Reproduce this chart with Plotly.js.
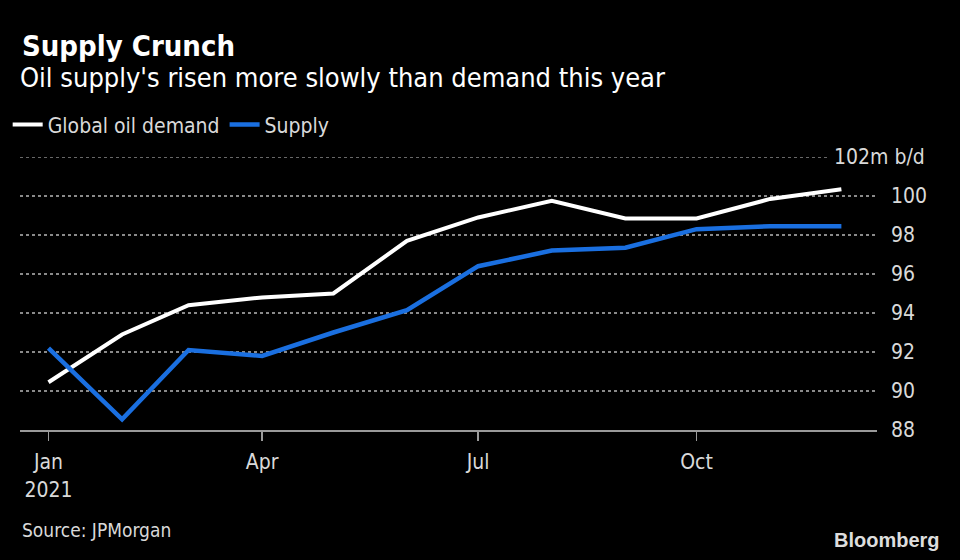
<!DOCTYPE html>
<html>
<head>
<meta charset="utf-8">
<script src="https://cdn.plot.ly/plotly-3.0.1.min.js"></script>
<style>
  html, body { margin: 0; padding: 0; background: #000; }
  #chart { width: 960px; height: 560px; }
</style>
</head>
<body>
<div id="chart"></div>
<script>
const months = ['2021-01-01','2021-02-01','2021-03-01','2021-04-01','2021-05-01','2021-06-01',
                '2021-07-01','2021-08-01','2021-09-01','2021-10-01','2021-11-01','2021-12-01'];
const demand = [90.45, 92.9, 94.4, 94.8, 95.0, 97.7, 98.9, 99.75, 98.85, 98.85, 99.85, 100.35];
const supply = [92.2, 88.55, 92.1, 91.8, 93.0, 94.15, 96.4, 97.2, 97.35, 98.3, 98.45, 98.45];
const xTickVals = ['2021-01-01','2021-04-01','2021-07-01','2021-10-01'];
const xTickText = ['Jan<br>2021','Apr','Jul','Oct'];
const yTickVals = [88, 90, 92, 94, 96, 98, 100];
const yTopValue = 102;
const yTopLabel = '102m b/d';

const FONT = '"DejaVu Sans Condensed", "Liberation Sans Narrow", "Roboto Condensed", "DejaVu Sans", sans-serif';
const TXT = '#d9d9d9';

const traces = [
  { x: months, y: demand, name: 'Global oil demand', type: 'scatter', mode: 'lines',
    line: { color: '#ffffff', width: 4 } },
  { x: months, y: supply, name: 'Supply', type: 'scatter', mode: 'lines',
    line: { color: '#1a6fe0', width: 4.5 } }
];

const layout = {
  width: 960, height: 560,
  paper_bgcolor: '#000', plot_bgcolor: '#000',
  margin: { l: 20, r: 83, t: 157, b: 130 },
  font: { family: FONT, color: TXT, size: 21 },
  title: {
    text: '<b>Supply Crunch</b>',
    x: 0, xref: 'container', xanchor: 'left', y: 1, yref: 'container', yanchor: 'top',
    pad: { l: 22, t: 36 },
    font: { family: FONT, size: 29, color: '#ffffff' }
  },
  showlegend: true,
  legend: {
    orientation: 'h', xref: 'container', yref: 'container', x: 0.008, y: 0.777,
    xanchor: 'left', yanchor: 'middle',
    font: { family: FONT, size: 21, color: TXT },
    itemwidth: 30, bgcolor: 'rgba(0,0,0,0)', traceorder: 'normal'
  },
  xaxis: {
    type: 'date',
    range: ['2020-12-20', '2021-12-16'],
    tickvals: xTickVals, ticktext: xTickText,
    showgrid: false, zeroline: false,
    showline: true, linecolor: '#9a9a9a', linewidth: 2,
    ticks: 'outside', ticklen: 9, tickcolor: '#9a9a9a', tickwidth: 1.5,
    ticklabelstandoff: 3,
    tickfont: { family: FONT, size: 21, color: TXT },
    fixedrange: true
  },
  yaxis: {
    range: [88, 102], side: 'right',
    tickvals: yTickVals,
    showgrid: true, gridcolor: '#8a8a8a', griddash: 'dot', gridwidth: 1.5,
    zeroline: false, showline: false, ticks: '',
    ticklabelstandoff: 13,
    tickfont: { family: FONT, size: 21, color: TXT },
    fixedrange: true
  },
  shapes: [
    { type: 'line', xref: 'paper', yref: 'y', x0: 0, x1: 0.944, y0: yTopValue, y1: yTopValue,
      line: { color: '#8a8a8a', width: 1.5, dash: 'dot' }, layer: 'below' }
  ],
  annotations: [
    { text: "Oil supply's risen more slowly than demand this year", xref: 'paper', yref: 'paper',
      x: -0.002, y: 1.293, xanchor: 'left', yanchor: 'middle', showarrow: false,
      font: { family: FONT, size: 27, color: '#ffffff' } },
    { text: yTopLabel, xref: 'paper', yref: 'y', x: 1.058, y: yTopValue, xanchor: 'right', yanchor: 'middle',
      showarrow: false, font: { family: FONT, size: 21, color: TXT } },
    { text: 'Source: JPMorgan', xref: 'paper', yref: 'paper', x: 0.0, y: -0.366,
      xanchor: 'left', yanchor: 'middle', showarrow: false,
      font: { family: FONT, size: 19, color: TXT } },
    { text: '<b>Bloomberg</b>', xref: 'paper', yref: 'paper', x: 1.076, y: -0.403,
      xanchor: 'right', yanchor: 'middle', showarrow: false,
      font: { family: '"Liberation Sans", Arial, sans-serif', size: 20, color: '#dddddd' } }
  ]
};

Plotly.newPlot('chart', traces, layout, { displayModeBar: false, staticPlot: true });
</script>
</body>
</html>
